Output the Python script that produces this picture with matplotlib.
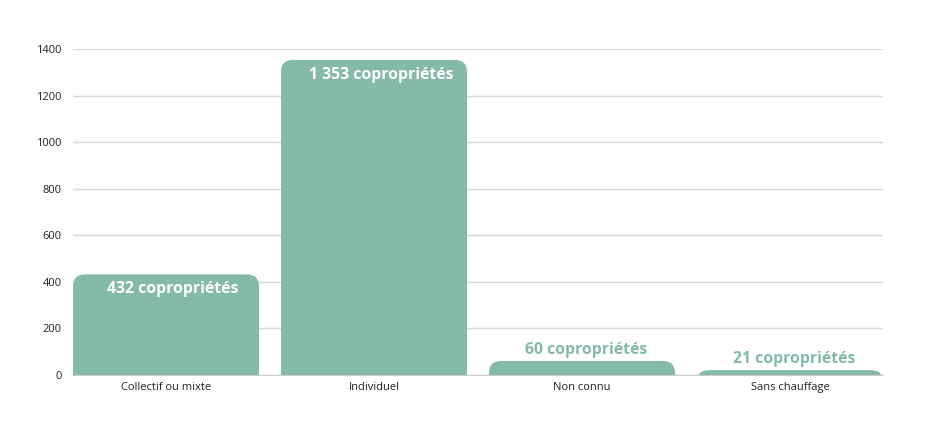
import matplotlib
matplotlib.use("Agg")
import matplotlib.pyplot as plt
from matplotlib.patches import FancyBboxPatch

categories = ["Collectif ou mixte", "Individuel", "Non connu", "Sans chauffage"]
values = [432, 1353, 60, 21]
labels = ["432 copropriétés", "1 353 copropriétés", "60 copropriétés", "21 copropriétés"]
inside = [True, True, False, False]
yticks = [0, 200, 400, 600, 800, 1000, 1200, 1400]

green = "#84BAA7"

fig = plt.figure(figsize=(9.35, 4.37), dpi=100)
ax = fig.add_axes([73/935, 1-375/437, 810/935, 326/437])

width = 186 / 208
n = len(categories)
ax.set_xlim(-width/2, n - 1 + width/2)
ax.set_ylim(0, 1400)

# rounding in pixels -> data units
px_per_x = 810 / (n - 1 + width)
px_per_y = 326 / 1400
r_px = 12
rx = r_px / px_per_x
ry = r_px / px_per_y

for i, v in enumerate(values):
    bottom = -300
    p = FancyBboxPatch((i - width/2, bottom), width, v - bottom,
                       boxstyle=f"round,pad=0,rounding_size={rx}",
                       mutation_aspect=ry/rx,
                       facecolor=green, edgecolor="none", zorder=3, clip_on=True)
    ax.add_patch(p)
    if inside[i]:
        ax.annotate(labels[i], (i, v), xytext=(7, -15), textcoords="offset pixels",
                    ha="center", va="center", color="white", fontsize=11.3,
                    fontweight="bold", family="Open Sans", zorder=4)
    else:
        ax.annotate(labels[i], (i, v), xytext=(4, 11), textcoords="offset pixels",
                    ha="center", va="center", color=green, fontsize=11.3,
                    fontweight="bold", family="Open Sans", zorder=4)

ax.set_yticks(yticks)
ax.set_yticklabels([str(t) for t in yticks], family="Open Sans", fontsize=8, color="#222222")
ax.set_xticks(range(n))
ax.set_xticklabels(categories, family="Open Sans", fontsize=8, color="#222222")
ax.tick_params(axis="both", length=0)
ax.tick_params(axis="y", pad=8)
ax.tick_params(axis="x", pad=5)
ax.yaxis.grid(True, color="#d9d9d9", linewidth=1, zorder=0)
ax.set_axisbelow(True)
for s in ["top", "right", "left"]:
    ax.spines[s].set_visible(False)
ax.spines["bottom"].set_color("#cccccc")
ax.spines["bottom"].set_zorder(5)

fig.savefig("out.png", dpi=100)
